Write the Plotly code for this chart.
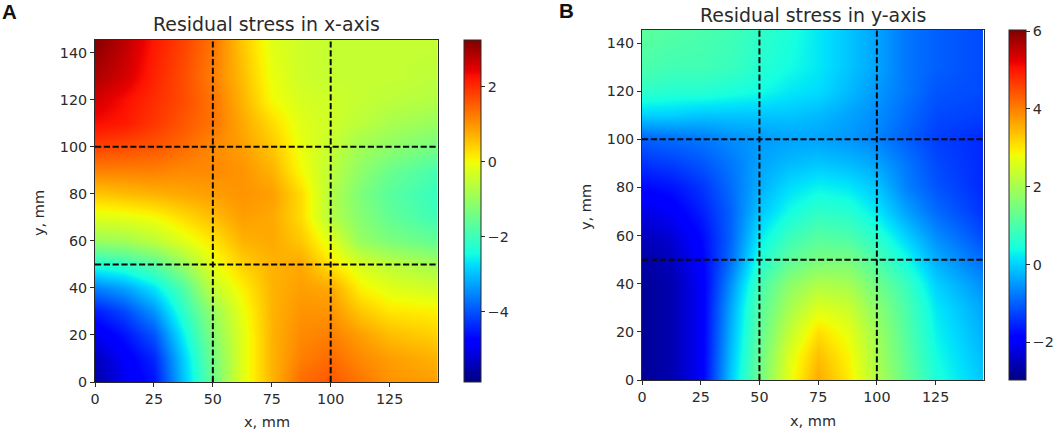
import plotly.graph_objects as go

X_GRID = [0, 12.5, 25, 37.5, 50, 62.5, 75, 87.5, 100, 112.5, 125, 145.4]
Y_GRID = [0, 10, 20, 30, 40, 50, 60, 70, 80, 90, 100, 110, 120, 130, 145.4]
CUT_LINES = [50, 100]
AXIS_MAX = 145.4
X_TICKS = [0, 25, 50, 75, 100, 125]
Y_TICKS = [0, 20, 40, 60, 80, 100, 120, 140]

STRESS_X = [
    [-5.6, -5.0, -4.6, -3.0, -1.5, -0.2, 0.7, 1.4, 1.6, 1.3, 1.0, 0.9],
    [-5.4, -4.9, -4.4, -2.9, -1.4, -0.2, 0.7, 1.2, 1.4, 1.1, 0.9, 0.7],
    [-5.0, -4.6, -4.0, -2.6, -1.2, -0.2, 0.7, 1.1, 1.2, 0.9, 0.6, 0.4],
    [-4.5, -4.1, -3.4, -2.2, -1.0, -0.1, 0.7, 1.0, 1.0, 0.5, 0.2, 0.1],
    [-3.6, -3.3, -2.7, -1.8, -0.5, 0.1, 0.7, 0.9, 0.8, 0.1, -0.2, -0.4],
    [-2.3, -2.1, -1.7, -1.0, -0.1, 0.4, 0.7, 0.8, 0.2, -0.3, -0.6, -0.9],
    [-1.0, -0.9, -0.6, -0.2, 0.2, 0.7, 0.8, 0.5, -0.2, -1.0, -1.3, -1.6],
    [-0.2, -0.15, 0.0, 0.3, 0.6, 0.9, 0.8, 0.3, -0.7, -1.2, -1.6, -2.0],
    [0.5, 0.6, 0.7, 0.8, 0.9, 1.0, 0.9, 0.3, -0.7, -1.3, -1.7, -2.1],
    [1.2, 1.2, 1.2, 1.1, 1.1, 1.0, 0.7, 0.0, -0.6, -1.1, -1.5, -1.9],
    [1.8, 1.7, 1.6, 1.4, 1.1, 0.9, 0.5, -0.1, -0.5, -0.9, -1.1, -1.4],
    [2.3, 2.2, 1.9, 1.6, 1.3, 0.8, 0.3, -0.2, -0.4, -0.6, -0.8, -1.0],
    [2.6, 2.3, 2.0, 1.7, 1.3, 0.7, 0.0, -0.3, -0.4, -0.5, -0.6, -0.7],
    [2.9, 2.6, 2.1, 1.7, 1.2, 0.6, -0.1, -0.4, -0.5, -0.5, -0.5, -0.6],
    [3.2, 2.8, 2.2, 1.8, 1.3, 0.5, -0.2, -0.4, -0.5, -0.5, -0.5, -0.5],
]

STRESS_Y = [
    [-2.8, -2.6, -2.0, -0.1, 1.4, 2.7, 3.6, 3.0, 2.1, 1.3, 0.5, -0.1],
    [-2.8, -2.6, -2.0, -0.2, 1.3, 2.6, 3.4, 2.9, 2.0, 1.2, 0.4, -0.2],
    [-2.8, -2.6, -2.0, -0.3, 1.2, 2.3, 3.1, 2.7, 1.9, 1.1, 0.3, -0.3],
    [-2.8, -2.6, -2.0, -0.4, 1.1, 2.0, 2.6, 2.4, 1.7, 1.0, 0.2, -0.4],
    [-2.8, -2.6, -2.0, -0.6, 0.9, 1.7, 2.1, 2.0, 1.4, 0.8, 0.0, -0.6],
    [-2.7, -2.5, -1.9, -0.9, 0.5, 1.2, 1.5, 1.5, 1.0, 0.4, -0.3, -0.9],
    [-2.5, -2.3, -1.8, -1.0, 0.2, 0.8, 1.1, 1.0, 0.6, 0.0, -0.6, -1.2],
    [-2.2, -2.0, -1.6, -1.0, -0.1, 0.4, 0.7, 0.6, 0.2, -0.4, -0.9, -1.4],
    [-1.8, -1.7, -1.4, -0.9, -0.3, 0.1, 0.3, 0.2, -0.1, -0.7, -1.1, -1.5],
    [-1.4, -1.3, -1.1, -0.8, -0.4, -0.2, -0.1, -0.2, -0.4, -0.8, -1.2, -1.5],
    [-1.0, -0.9, -0.8, -0.6, -0.5, -0.4, -0.4, -0.5, -0.7, -1.0, -1.3, -1.5],
    [0.0, 0.0, -0.1, -0.1, -0.1, -0.1, -0.2, -0.4, -0.6, -0.9, -1.2, -1.3],
    [0.7, 0.6, 0.6, 0.5, 0.4, 0.2, 0.1, -0.2, -0.5, -0.8, -1.1, -1.2],
    [1.0, 0.9, 0.9, 0.8, 0.6, 0.4, 0.2, -0.1, -0.4, -0.8, -1.0, -1.2],
    [1.2, 1.1, 1.0, 0.9, 0.7, 0.5, 0.2, -0.1, -0.4, -0.8, -1.0, -1.2],
]

ZMIN_X, ZMAX_X = -5.88, 3.25
ZMIN_Y, ZMAX_Y = -2.97, 6.03
CBAR_TICKS_X = [-4, -2, 0, 2]
CBAR_TICKS_Y = [-2, 0, 2, 4, 6]

JET = [
    [0.0, "rgb(0,0,128)"], [0.11, "rgb(0,0,255)"], [0.125, "rgb(0,0,255)"],
    [0.34, "rgb(0,219,255)"], [0.35, "rgb(0,230,247)"], [0.375, "rgb(20,255,226)"],
    [0.64, "rgb(238,255,8)"], [0.65, "rgb(247,246,0)"], [0.66, "rgb(255,236,0)"],
    [0.89, "rgb(255,19,0)"], [0.91, "rgb(232,0,0)"], [1.0, "rgb(128,0,0)"],
]

W, H = 1059.0, 434.0
INK = "#2a2a2a"
FONT = "DejaVu Sans"


def px_x(p):
    return p / W


def px_y(p):
    return 1 - p / H


fig = go.Figure()

panels = [
    dict(z=STRESS_X, zmin=ZMIN_X, zmax=ZMAX_X, ticks=CBAR_TICKS_X, box=(95, 437.7, 40, 382),
         cbar=(463.7, 17), xa="x", ya="y", xl="xaxis", yl="yaxis",
         xt=(266.5, 422), yt=(39, 213), title=("Residual stress in x-axis", 266.5, 24),
         letter=("<b>A</b>", 9.5, 12)),
    dict(z=STRESS_Y, zmin=ZMIN_Y, zmax=ZMAX_Y, ticks=CBAR_TICKS_Y, box=(642, 983.5, 30, 380),
         cbar=(1009.3, 16.7), xa="x2", ya="y2", xl="xaxis2", yl="yaxis2",
         xt=(813, 420.5), yt=(586, 207), title=("Residual stress in y-axis", 813, 14.5),
         letter=("<b>B</b>", 566, 11)),
]

layout_axes = {}
annos = []
for p in panels:
    x0, x1, y0, y1 = p["box"]
    fig.add_trace(go.Heatmap(
        x=X_GRID, y=Y_GRID, z=p["z"], zmin=p["zmin"], zmax=p["zmax"], colorscale=JET,
        zsmooth="best", xaxis=p["xa"], yaxis=p["ya"], hoverinfo="skip",
        colorbar=dict(
            x=px_x(p["cbar"][0]), xanchor="left", xpad=0, ypad=0,
            y=px_y(y1), yanchor="bottom", lenmode="pixels", len=y1 - y0,
            thicknessmode="pixels", thickness=p["cbar"][1],
            tickvals=p["ticks"], ticks="outside", ticklen=4, tickwidth=1, tickcolor=INK,
            tickfont=dict(family=FONT, size=14.3, color=INK),
            outlinewidth=1, outlinecolor=INK,
        ),
    ))
    for c in CUT_LINES:
        fig.add_trace(go.Scatter(x=[c, c], y=[0, AXIS_MAX], mode="lines", xaxis=p["xa"], yaxis=p["ya"],
                                 line=dict(color="#0a0a0a", width=2, dash="6.2px,2.6px"),
                                 showlegend=False, hoverinfo="skip"))
        fig.add_trace(go.Scatter(x=[0, AXIS_MAX], y=[c, c], mode="lines", xaxis=p["xa"], yaxis=p["ya"],
                                 line=dict(color="#0a0a0a", width=2, dash="6.2px,2.6px"),
                                 showlegend=False, hoverinfo="skip"))
    common = dict(showgrid=False, zeroline=False, showline=True, mirror=True, linecolor=INK, linewidth=1,
                  ticks="outside", ticklen=4, tickwidth=1, tickcolor=INK, range=[0, AXIS_MAX],
                  automargin=False, tickfont=dict(family=FONT, size=14.3, color=INK))
    layout_axes[p["xl"]] = dict(common, domain=[px_x(x0), px_x(x1)], anchor=p["ya"], tickvals=X_TICKS)
    layout_axes[p["yl"]] = dict(common, domain=[px_y(y1), px_y(y0)], anchor=p["xa"], tickvals=Y_TICKS)
    annos += [
        dict(text="x, mm", x=px_x(p["xt"][0]), y=px_y(p["xt"][1]), font=dict(family=FONT, size=14.5, color=INK)),
        dict(text="y, mm", x=px_x(p["yt"][0]), y=px_y(p["yt"][1]), textangle=-90,
             font=dict(family=FONT, size=14.5, color=INK)),
        dict(text=p["title"][0], x=px_x(p["title"][1]), y=px_y(p["title"][2]),
             font=dict(family=FONT, size=18.9, color=INK)),
        dict(text=p["letter"][0], x=px_x(p["letter"][1]), y=px_y(p["letter"][2]),
             font=dict(family="Liberation Sans", size=20.5, color="#111")),
    ]

for a in annos:
    a.update(xref="paper", yref="paper", showarrow=False, xanchor="center", yanchor="middle")

fig.update_layout(width=1059, height=434, margin=dict(l=0, r=0, t=0, b=0, autoexpand=False), autosize=False,
                  paper_bgcolor="white", plot_bgcolor="white", showlegend=False,
                  annotations=annos, **layout_axes)

fig.write_html("out.html", config={"displayModeBar": False},
               post_script="document.body.style.margin='0';document.body.style.overflow='hidden';")
